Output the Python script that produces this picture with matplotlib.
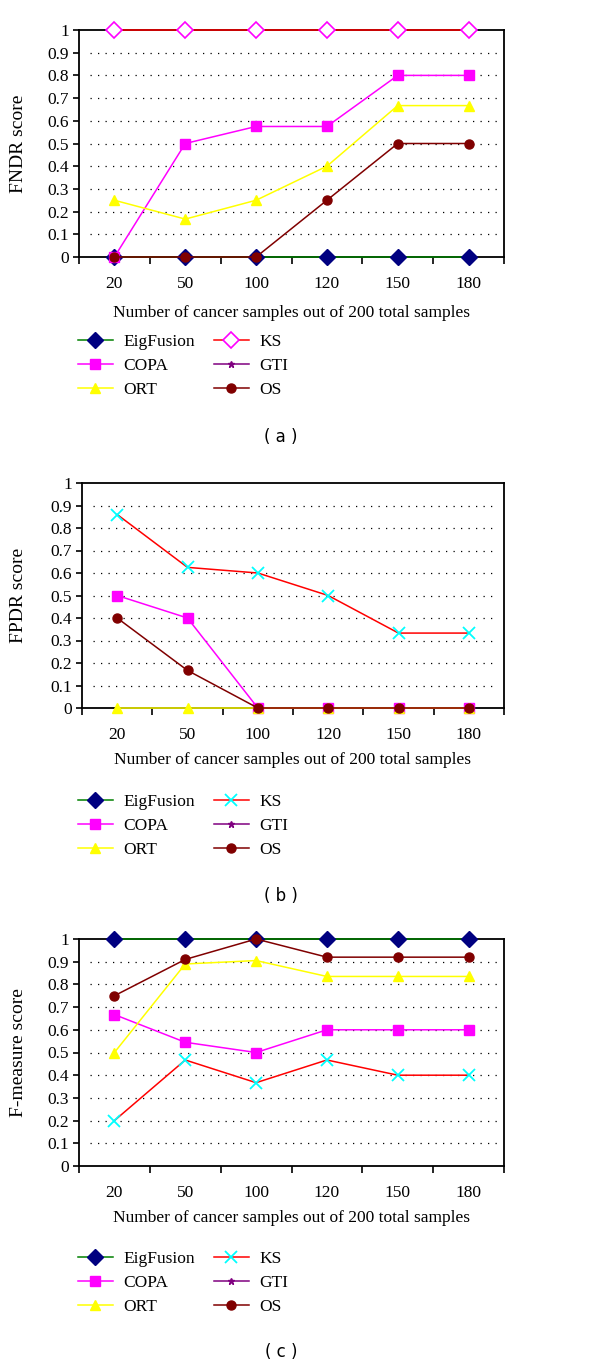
import numpy as np
import matplotlib
matplotlib.use("Agg")
import matplotlib.pyplot as plt
from matplotlib.ticker import FormatStrFormatter

plt.rcParams['font.family'] = ['Liberation Serif', 'DejaVu Serif']

# x categories (number of cancer samples)
sample_counts = ['20', '50', '100', '120', '150', '180']
methods = ['EigFusion', 'COPA', 'ORT', 'KS', 'GTI', 'OS']
nan = np.nan

# (a) FNDR score
fndr_eigfusion = [0, 0, 0, 0, 0, 0]
fndr_copa = [0, 0.5, 0.575, 0.575, 0.8, 0.8]
fndr_ort = [0.25, 0.167, 0.25, 0.4, 0.667, 0.667]
fndr_ks = [1, 1, 1, 1, 1, 1]
fndr_gti = [nan] * 6
fndr_os = [0, 0, 0, 0.25, 0.5, 0.5]

# (b) FPDR score
fpdr_eigfusion = [nan] * 6
fpdr_copa = [0.5, 0.4, 0, 0, 0, 0]
fpdr_ort = [0, 0, 0, 0, 0, 0]
fpdr_ks = [0.86, 0.625, 0.6, 0.5, 0.333, 0.333]
fpdr_gti = [nan] * 6
fpdr_os = [0.4, 0.167, 0, 0, 0, 0]

# (c) F-measure score
fm_eigfusion = [1, 1, 1, 1, 1, 1]
fm_copa = [0.667, 0.545, 0.5, 0.6, 0.6, 0.6]
fm_ort = [0.5, 0.89, 0.905, 0.835, 0.835, 0.835]
fm_ks = [0.2, 0.467, 0.367, 0.467, 0.4, 0.4]
fm_gti = [nan] * 6
fm_os = [0.75, 0.91, 1.0, 0.92, 0.92, 0.92]

panels = [
    ('FNDR score', '( a )', [fndr_eigfusion, fndr_copa, fndr_ort, fndr_ks, fndr_gti, fndr_os]),
    ('FPDR score', '( b )', [fpdr_eigfusion, fpdr_copa, fpdr_ort, fpdr_ks, fpdr_gti, fpdr_os]),
    ('F-measure score', '( c )', [fm_eigfusion, fm_copa, fm_ort, fm_ks, fm_gti, fm_os]),
]

W, H = 600, 1366
# axes boxes in pixels: left, right, top, bottom
boxes = [(79, 504, 30, 257), (82, 504, 483, 708), (79, 504, 939, 1166)]
xlabel_y = [313, 760, 1218]
legend_top = [334, 794, 1251]
sub_y = [437, 896, 1352]


def style_for(name, panel_idx):
    # line colour, marker, marker face, marker edge, marker size
    if name == 'EigFusion':
        return dict(color='#008000', marker='D', mfc='#000080', mec='#000080', ms=8)
    if name == 'COPA':
        return dict(color='#FF00FF', marker='s', mfc='#FF00FF', mec='#FF00FF', ms=6.5)
    if name == 'ORT':
        return dict(color='#FFFF00', marker='^', mfc='#FFFF00', mec='#FFFF00', ms=7.5)
    if name == 'KS':
        if panel_idx == 0:
            return dict(color='#FF0000', marker='D', mfc='white', mec='#FF00FF', ms=8, mew=1.2)
        return dict(color='#FF0000', marker='x', mfc='#00FFFF', mec='#00FFFF', ms=8, mew=1.3)
    if name == 'GTI':
        return dict(color='#800080', marker='*', mfc='#800080', mec='#800080', ms=5)
    return dict(color='#800000', marker='o', mfc='#800000', mec='#800000', ms=6.5)


fig = plt.figure(figsize=(W / 100, H / 100), dpi=100)
x = np.arange(len(sample_counts))

for i, (ylabel, sub, series) in enumerate(panels):
    l, r, t, b = boxes[i]
    ax = fig.add_axes([l / W, 1 - b / H, (r - l) / W, (b - t) / H])
    ax.set_xlim(-0.5, len(sample_counts) - 0.5)
    ax.set_ylim(0, 1)

    # dotted grid lines
    for gy in np.arange(0.1, 0.95, 0.1):
        ax.hlines(gy, -0.35, 5.4, colors='black', linestyles=(0, (1, 5)), lw=0.9, zorder=1)

    for name, vals in zip(methods, series):
        st = style_for(name, i)
        ax.plot(x, vals, lw=1.1, label=name, zorder=3, clip_on=False, **st)

    ax.set_yticks(np.arange(0, 1.01, 0.1))
    ax.yaxis.set_major_formatter(FormatStrFormatter('%g'))
    ax.set_xticks(x)
    ax.set_xticklabels(sample_counts)
    ax.set_xticks(np.arange(-0.5, len(sample_counts)), minor=True)
    ax.tick_params(axis='x', which='major', length=0, pad=14, labelsize=12.5)
    ax.tick_params(axis='x', which='minor', length=5, width=1.2, direction='out')
    ax.tick_params(axis='y', length=4, width=1.2, direction='out', labelsize=12.5, pad=3)
    for sp in ax.spines.values():
        sp.set_linewidth(1.3)
        sp.set_zorder(2)

    ax.set_ylabel(ylabel, fontsize=14)
    ax.yaxis.set_label_coords((27 - l) / (r - l), 0.5)
    fig.text(((l + r) / 2) / W, 1 - xlabel_y[i] / H,
             'Number of cancer samples out of 200 total samples',
             ha='center', va='center', fontsize=12.5)

    # two columns, filled column by column
    handles, labels = ax.get_legend_handles_labels()
    fig.legend(handles, labels, loc='upper left',
               bbox_to_anchor=(78 / W, 1 - legend_top[i] / H),
               ncol=2, frameon=False, fontsize=12.5, handlelength=2.0,
               handletextpad=0.6, columnspacing=1.1, labelspacing=0.45,
               borderpad=0, borderaxespad=0)

    fig.text(281 / W, 1 - sub_y[i] / H, sub, ha='center', va='center',
             fontsize=12, family='DejaVu Sans')

fig.savefig('out.png', dpi=100)
